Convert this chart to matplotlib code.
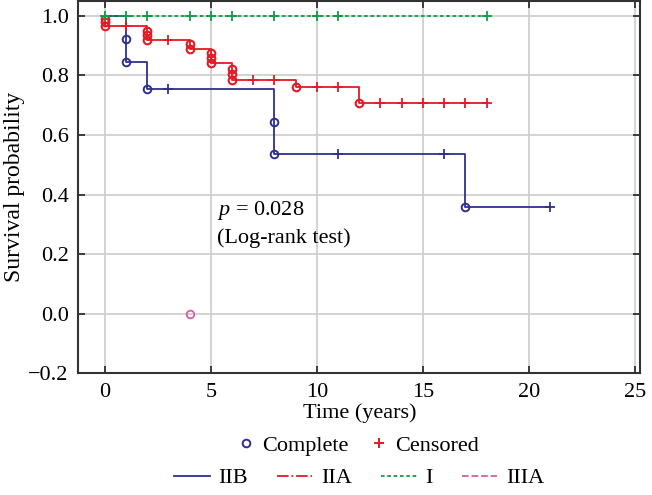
import numpy as np
import matplotlib.pyplot as plt
from matplotlib.lines import Line2D

plt.rcParams['font.family'] = ['Liberation Serif', 'DejaVu Serif']
plt.rcParams['mathtext.fontset'] = 'custom'
plt.rcParams['mathtext.it'] = 'Liberation Serif:italic'
plt.rcParams['mathtext.rm'] = 'Liberation Serif'

# ---------------------------------------------------------------- data
# stage IIB
iib_t = [0, 1, 2, 8, 17, 21]
iib_s = [1.0, 0.846, 0.753, 0.535, 0.358, 0.358]
iib_event_t = [1, 1, 2, 8, 8, 17]
iib_event_s = [0.923, 0.846, 0.753, 0.645, 0.535, 0.358]
iib_cens_t = [3, 11, 16, 21]
iib_cens_s = [0.753, 0.535, 0.535, 0.358]

# stage IIA
iia_t = [0, 0, 2, 4, 5, 6, 9, 12, 18]
iia_s = [1.0, 0.967, 0.92, 0.89, 0.842, 0.786, 0.76, 0.708, 0.708]
iia_event_t = [0, 0, 0, 2, 2, 2, 4, 4, 5, 5, 5, 6, 6, 6, 9, 12]
iia_event_s = [0.988, 0.978, 0.967, 0.95, 0.935, 0.92, 0.905, 0.89,
               0.875, 0.858, 0.842, 0.823, 0.804, 0.786, 0.76, 0.708]
iia_cens_t = [1, 3, 7, 8, 10, 11, 13, 14, 15, 16, 17, 18]
iia_cens_s = [0.967, 0.92, 0.786, 0.786, 0.76, 0.76,
              0.708, 0.708, 0.708, 0.708, 0.708, 0.708]

# stage I
i_t = [0, 18]
i_s = [1.0, 1.0]
i_cens_t = [0, 1, 2, 4, 5, 6, 8, 10, 11, 18]
i_cens_s = [1.0] * len(i_cens_t)

# stage IIIA
iiia_event_t = [4]
iiia_event_s = [0.0]

c_iib = '#2f2f8f'
c_iia = '#e31a23'
c_i = '#119c45'
c_iiia = '#d160a8'

fs = 16

# ---------------------------------------------------------------- plot
fig = plt.figure(figsize=(6.52, 4.95), dpi=100)
ax = fig.add_axes([0.12, 0.246, 0.862, 0.752])

ax.grid(True, color='#cccccc', lw=1.2)
ax.set_axisbelow(True)

ms_o = 5.5
ms_p = 7

ax.step(iib_t, iib_s, where='post', color=c_iib, lw=1.3)
ax.plot(iib_event_t, iib_event_s, 'o', mfc='none', mec=c_iib, ms=ms_o, mew=1.4)
ax.plot(iib_cens_t, iib_cens_s, '+', color=c_iib, ms=ms_p, mew=1.3)

ax.step(iia_t, iia_s, where='post', color=c_iia, lw=1.3)
ax.plot(iia_event_t, iia_event_s, 'o', mfc='none', mec=c_iia, ms=ms_o, mew=1.5)
ax.plot(iia_cens_t, iia_cens_s, '+', color=c_iia, ms=ms_p, mew=1.3)

ax.step(i_t, i_s, where='post', color=c_i, lw=1.3, ls=(0, (2, 1.5)))
ax.plot(i_cens_t, i_cens_s, '+', color=c_i, ms=ms_p, mew=1.3)

ax.plot(iiia_event_t, iiia_event_s, 'o', mfc='none', mec=c_iiia, ms=ms_o, mew=1.3)

ax.set_xlim(-1.25, 25.25)
ax.set_ylim(-0.2, 1.05)
ax.set_xticks([0, 5, 10, 15, 20, 25])
ax.set_yticks([-0.2, 0.0, 0.2, 0.4, 0.6, 0.8, 1.0])
ax.set_yticklabels(['\u22120.2', '0.0', '0.2', '0.4', '0.6', '0.8', '1.0'])
ax.tick_params(direction='in', length=5, width=1.2, top=True, right=True,
               labelsize=fs, colors='#222222', labelcolor='black', pad=7)
for sp in ax.spines.values():
    sp.set_color('#333333')
    sp.set_linewidth(1.5)

ax.set_xlabel('Time (years)', fontsize=fs, labelpad=1)
ax.set_ylabel('Survival probability', fontsize=fs + 1, labelpad=2)

ax.text(5.3, 0.345, '$p$ = 0.028', fontsize=fs, va='center', ha='left')
ax.text(5.3, 0.255, '(Log-rank test)', fontsize=fs, va='center', ha='left')

# legends below the axes
h1 = [Line2D([], [], ls='none', marker='o', mfc='none', mec=c_iib, ms=ms_o, mew=1.4),
      Line2D([], [], ls='none', marker='+', color=c_iia, ms=ms_p, mew=1.4)]
fig.legend(h1, ['Complete', 'Censored'], loc='center', bbox_to_anchor=(0.551, 0.099),
           ncol=2, frameon=False, fontsize=fs, handlelength=0.6, handletextpad=0.4,
           columnspacing=1.1, borderpad=0)

h2 = [Line2D([], [], color=c_iib, lw=1.3),
      Line2D([], [], color=c_iia, lw=1.3, ls='-.'),
      Line2D([], [], color=c_i, lw=1.3, ls=(0, (2, 1.5))),
      Line2D([], [], color=c_iiia, lw=1.3, ls='--')]
fig.legend(h2, ['IIB', 'IIA', 'I', 'IIIA'], loc='center', bbox_to_anchor=(0.551, 0.034),
           ncol=4, frameon=False, fontsize=fs, handlelength=1.6, handletextpad=0.4,
           columnspacing=1.3, borderpad=0)

fig.savefig('out.png', dpi=100)
